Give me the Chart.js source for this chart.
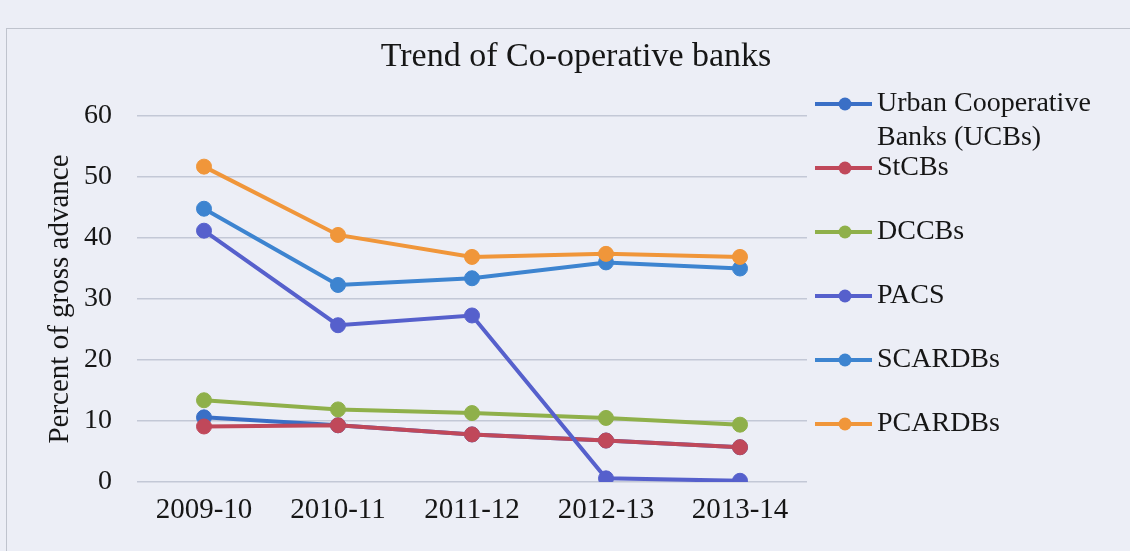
<!DOCTYPE html>
<html>
<head>
<meta charset="utf-8">
<script src="https://cdn.jsdelivr.net/npm/chart.js@4.4.1/dist/chart.umd.min.js"></script>
<style>
  html, body { margin: 0; padding: 0; background: #eceef6; }
  #wrap { position: relative; width: 1130px; height: 551px; overflow: hidden; }
  #frame { position: absolute; left: 6px; top: 28px; width: 1200px; height: 600px; border: 1.5px solid #bfc3cd; box-sizing: border-box; }
  canvas { position: absolute; left: 0; top: 0; }
</style>
</head>
<body>
<div id="wrap">
  <div id="frame"></div>
  <canvas id="lineChart" width="1130" height="551"></canvas>
</div>
<script>
var years = ['2009-10', '2010-11', '2011-12', '2012-13', '2013-14'];
var yTicks = [0, 10, 20, 30, 40, 50, 60];

var ucbs    = [10.6, 9.3, 7.8, 6.8, 5.7];
var stcbs   = [9.1, 9.3, 7.8, 6.8, 5.7];
var dccbs   = [13.4, 11.9, 11.3, 10.5, 9.4];
var pacs    = [41.2, 25.7, 27.3, 0.6, 0.2];
var scardbs = [44.8, 32.3, 33.4, 36.0, 35.0];
var pcardbs = [51.7, 40.5, 36.9, 37.4, 36.9];

var names = [['Urban Cooperative', 'Banks (UCBs)'], ['StCBs'], ['DCCBs'], ['PACS'], ['SCARDBs'], ['PCARDBs']];
var colors = ['#3a6fc6', '#c0485a', '#8fb04a', '#5660cc', '#3d84d0', '#f0963a'];
var values = [ucbs, stcbs, dccbs, pacs, scardbs, pcardbs];

var serif = "'Liberation Serif', 'Times New Roman', serif";

function makeSet(i) {
    return {
        label: names[i].join(' '),
        data: values[i],
        order: values.length - i,   // later series painted on top, like the original
        borderColor: colors[i],
        backgroundColor: colors[i],
        pointBackgroundColor: colors[i],
        pointBorderColor: colors[i],
        borderWidth: 4,
        pointRadius: 7.5,
        pointBorderWidth: 1,
        tension: 0
    };
}

// title + side legend drawn by hand so they sit where the original has them
var decor = {
    id: 'decor',
    afterDraw: function (chart) {
        var c = chart.ctx;
        c.save();
        c.fillStyle = '#161616';
        c.font = '34px ' + serif;
        c.textAlign = 'center';
        c.textBaseline = 'middle';
        c.fillText('Trend of Co-operative banks', 576, 57);

        c.font = '28px ' + serif;
        c.textAlign = 'left';
        for (var i = 0; i < names.length; i++) {
            var y = 104 + i * 64;
            c.strokeStyle = colors[i];
            c.fillStyle = colors[i];
            c.lineWidth = 4;
            c.beginPath();
            c.moveTo(815, y);
            c.lineTo(872, y);
            c.stroke();
            c.beginPath();
            c.arc(845, y, 6.5, 0, Math.PI * 2);
            c.fill();
            c.fillStyle = '#161616';
            for (var j = 0; j < names[i].length; j++) {
                c.fillText(names[i][j], 877, y + j * 34);
            }
        }
        c.restore();
    }
};

var ctx = document.getElementById('lineChart').getContext('2d');
var lineChart = new Chart(ctx, {
    type: 'line',
    data: {
        labels: years,
        datasets: values.map(function (v, i) { return makeSet(i); })
    },
    options: {
        responsive: false,
        animation: false,
        layout: { padding: { left: 43, right: 323, top: 116, bottom: 0 } },
        plugins: {
            legend: { display: false },
            title: { display: false },
            tooltip: { enabled: false }
        },
        scales: {
            x: {
                offset: true,
                grid: { display: false, drawTicks: false },
                border: { display: false },
                ticks: { color: '#161616', font: { family: serif, size: 29 }, padding: 11, maxRotation: 0 },
                afterFit: function (s) { s.height = 69; }
            },
            y: {
                min: 0,
                max: 60,
                afterBuildTicks: function (s) { s.ticks = yTicks.map(function (v) { return { value: v }; }); },
                grid: { color: '#c3c8d6', lineWidth: 1.5, drawTicks: false },
                border: { display: false },
                ticks: { color: '#161616', font: { family: serif, size: 28 }, padding: 25 },
                title: { display: true, text: 'Percent of gross advance', color: '#161616', font: { family: serif, size: 29 }, padding: 0 },
                afterFit: function (s) { s.width = 94; }
            }
        }
    },
    plugins: [decor]
});
</script>
</body>
</html>
